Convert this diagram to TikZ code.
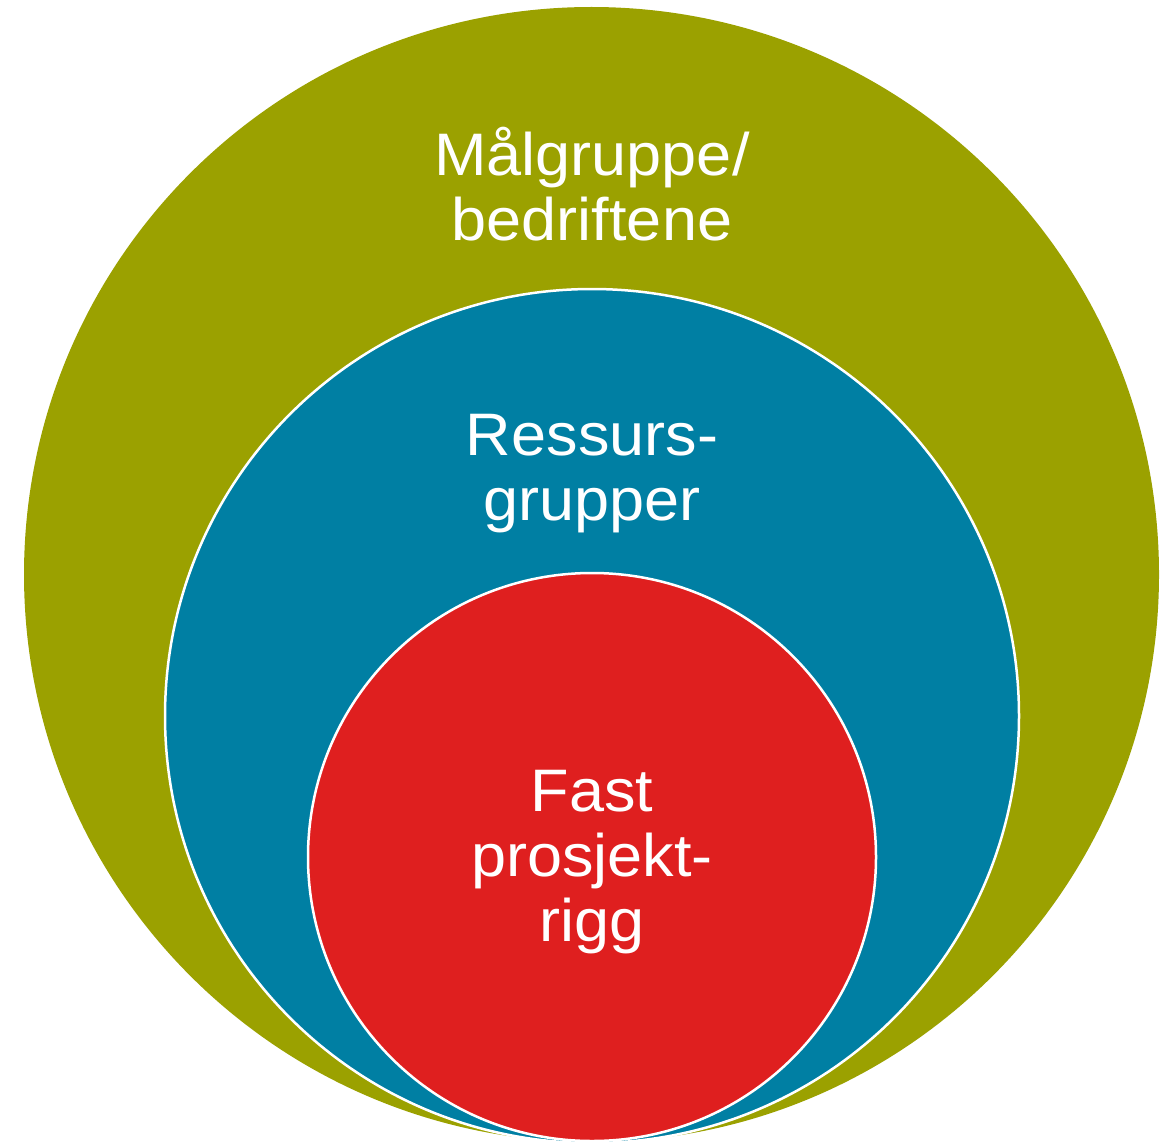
\documentclass[tikz,border=0pt]{standalone}
\usepackage{fontspec}
\setmainfont{Liberation Sans}[FakeStretch=1.05]
\usepackage{tikz}
\usetikzlibrary{positioning}
\definecolor{ringgreen}{RGB}{155,161,0}
\definecolor{ringblue}{RGB}{0,127,163}
\definecolor{ringred}{RGB}{223,31,31}
\begin{document}
\begin{tikzpicture}[x=1pt,y=-1pt]
  \tikzstyle{ring}=[circle,inner sep=0pt,outer sep=0pt]
  \tikzstyle{rim}=[draw=white,line width=2.5pt]
  \tikzstyle{txt}=[text=white,align=center,inner sep=0pt,font=\fontsize{60}{65}\selectfont]
  \useasboundingbox (0,0) rectangle (1174,1142);
  % nested circles, all touching at the bottom
  \node [ring,fill=ringgreen,minimum size=1135pt] (maal) at (591.5,574.5) {};
  \node [ring,rim,fill=ringblue,minimum size=854pt] (ress) at (592,716) {};
  \node [ring,rim,fill=ringred,minimum size=568pt] (fast) at (592,857) {};
  % labels (base = last line)
  \node [txt,anchor=base] (maaltxt) at (592,240) {Målgruppe/\\bedriftene};
  \node [txt,anchor=base] (resstxt) at (592,520) {Ressurs-\\grupper};
  \node [txt,anchor=base] (fasttxt) at (592,941) {Fast\\prosjekt-\\rigg};
\end{tikzpicture}
\end{document}
